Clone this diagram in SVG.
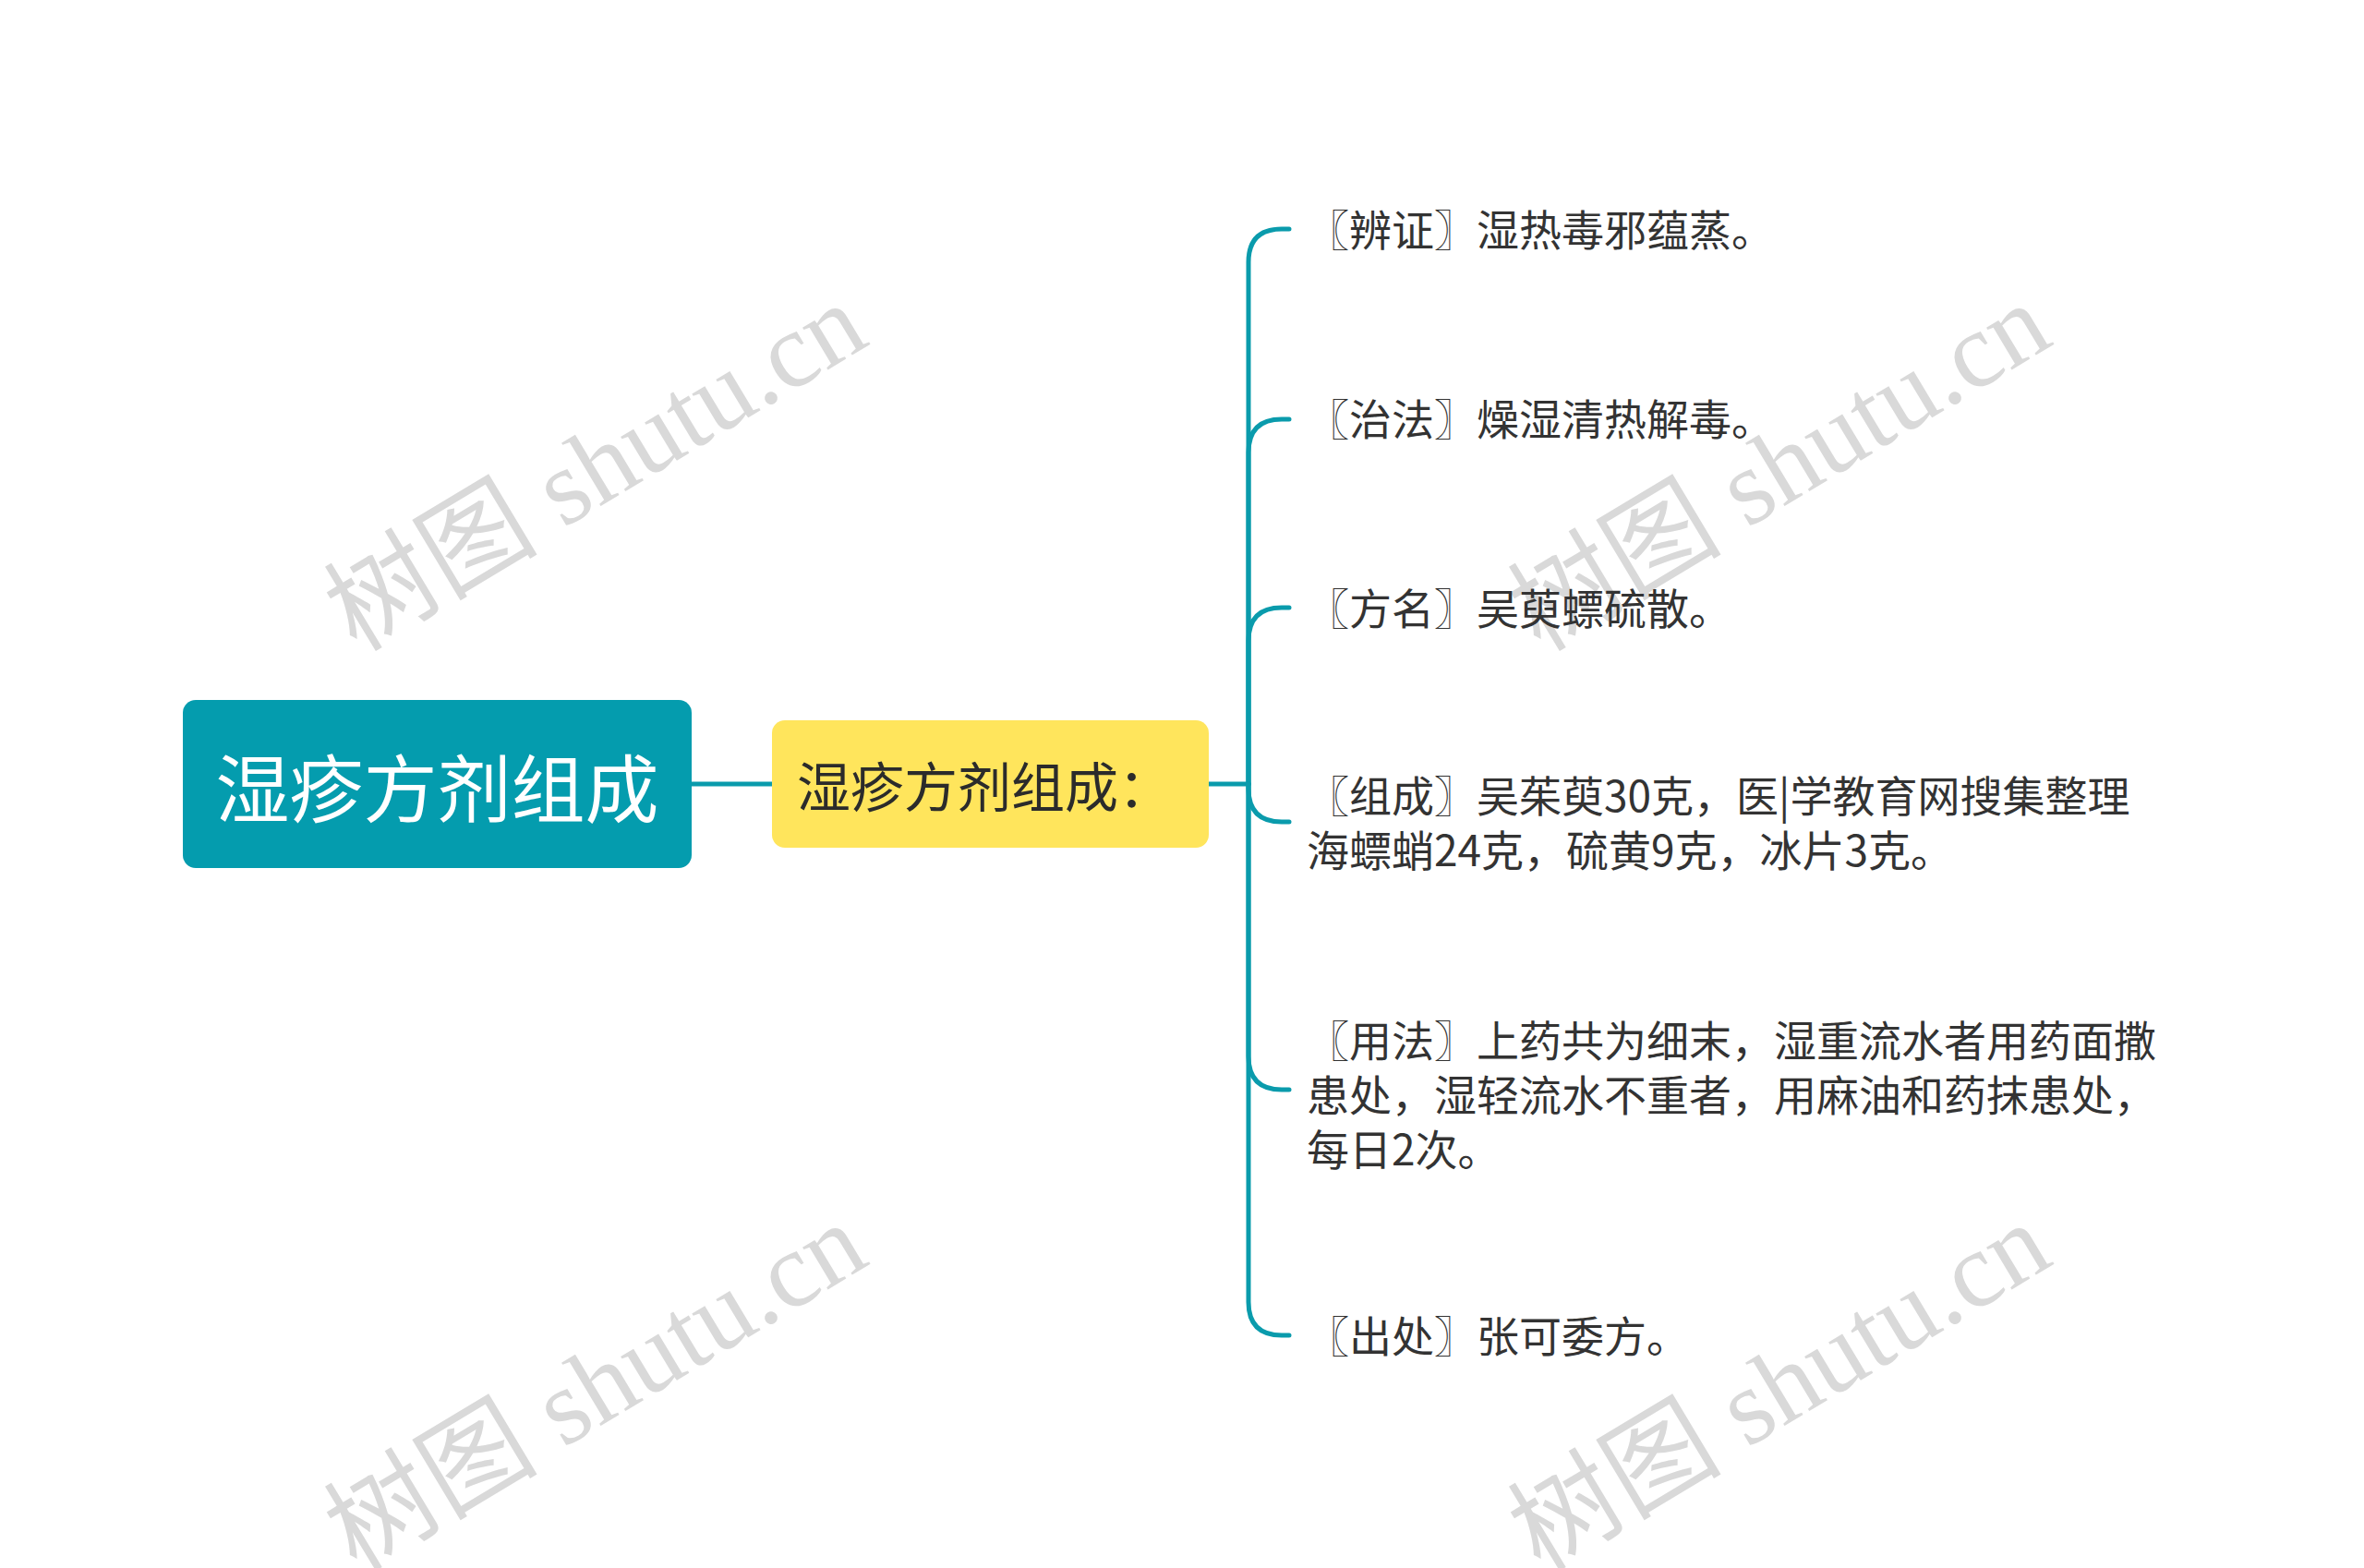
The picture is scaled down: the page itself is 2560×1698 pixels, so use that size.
<svg xmlns="http://www.w3.org/2000/svg" width="2560" height="1698" viewBox="0 0 2560 1698">
<style>
.wm{font-family:"Liberation Serif","Noto Sans CJK SC",serif;font-size:116px;fill:#d9d9d9}
.conn{fill:none;stroke:#0a9bac;stroke-width:5;stroke-linecap:round}
.root-box{fill:#049cae}
.root-text{font-family:"Noto Sans CJK SC",sans-serif;font-size:80px;fill:#ffffff}
.mid-box{fill:#ffe55c}
.mid-text{font-family:"Noto Sans CJK SC",sans-serif;font-size:58px;fill:#2b2b2b}
.leaf{font-family:"Noto Sans CJK SC",sans-serif;font-size:46px;fill:#333333}
</style>
<rect width="2560" height="1698" fill="#ffffff"/>
<g id="watermarks">
<text class="wm" x="386" y="707" transform="rotate(-31 386 707)">树图 shutu.cn</text>
<text class="wm" x="1668" y="707" transform="rotate(-31 1668 707)">树图 shutu.cn</text>
<text class="wm" x="386" y="1703" transform="rotate(-31 386 1703)">树图 shutu.cn</text>
<text class="wm" x="1668" y="1703" transform="rotate(-31 1668 1703)">树图 shutu.cn</text>
</g>
<g id="connectors">
<path class="conn" d="M749 849 H836"/>
<path class="conn" d="M1309 849 H1352"/>
<path class="conn" d="M1352 849 V284 Q1352 248 1388 248 H1396"/>
<path class="conn" d="M1352 849 V490 Q1352 454 1388 454 H1396"/>
<path class="conn" d="M1352 849 V694 Q1352 658 1388 658 H1396"/>
<path class="conn" d="M1352 849 V854 Q1352 890 1388 890 H1396"/>
<path class="conn" d="M1352 849 V1144 Q1352 1180 1388 1180 H1396"/>
<path class="conn" d="M1352 849 V1410 Q1352 1446 1388 1446 H1396"/>
</g>
<g id="root">
<rect class="root-box" x="198" y="758" width="551" height="182" rx="14"/>
<text class="root-text" x="473.5" y="849" text-anchor="middle" dominant-baseline="central">湿疹方剂组成</text>
</g>
<g id="mid">
<rect class="mid-box" x="836" y="780" width="473" height="138" rx="14"/>
<text class="mid-text" x="863" y="849" dominant-baseline="central">湿疹方剂组成：</text>
</g>
<g id="leaf1"><text class="leaf" x="1415" y="246" dominant-baseline="central">〖辨证〗湿热毒邪蕴蒸。</text></g>
<g id="leaf2"><text class="leaf" x="1415" y="451" dominant-baseline="central">〖治法〗燥湿清热解毒。</text></g>
<g id="leaf3"><text class="leaf" x="1415" y="656" dominant-baseline="central">〖方名〗吴萸螵硫散。</text></g>
<g id="leaf4">
<text class="leaf" x="1415" y="859" dominant-baseline="central">〖组成〗吴茱萸30克，医|学教育网搜集整理</text>
<text class="leaf" x="1415" y="918" dominant-baseline="central">海螵蛸24克，硫黄9克，冰片3克。</text>
</g>
<g id="leaf5">
<text class="leaf" x="1415" y="1124" dominant-baseline="central">〖用法〗上药共为细末，湿重流水者用药面撒</text>
<text class="leaf" x="1415" y="1183" dominant-baseline="central">患处，湿轻流水不重者，用麻油和药抹患处，</text>
<text class="leaf" x="1415" y="1242" dominant-baseline="central">每日2次。</text>
</g>
<g id="leaf6"><text class="leaf" x="1415" y="1444" dominant-baseline="central">〖出处〗张可委方。</text></g>
</svg>
